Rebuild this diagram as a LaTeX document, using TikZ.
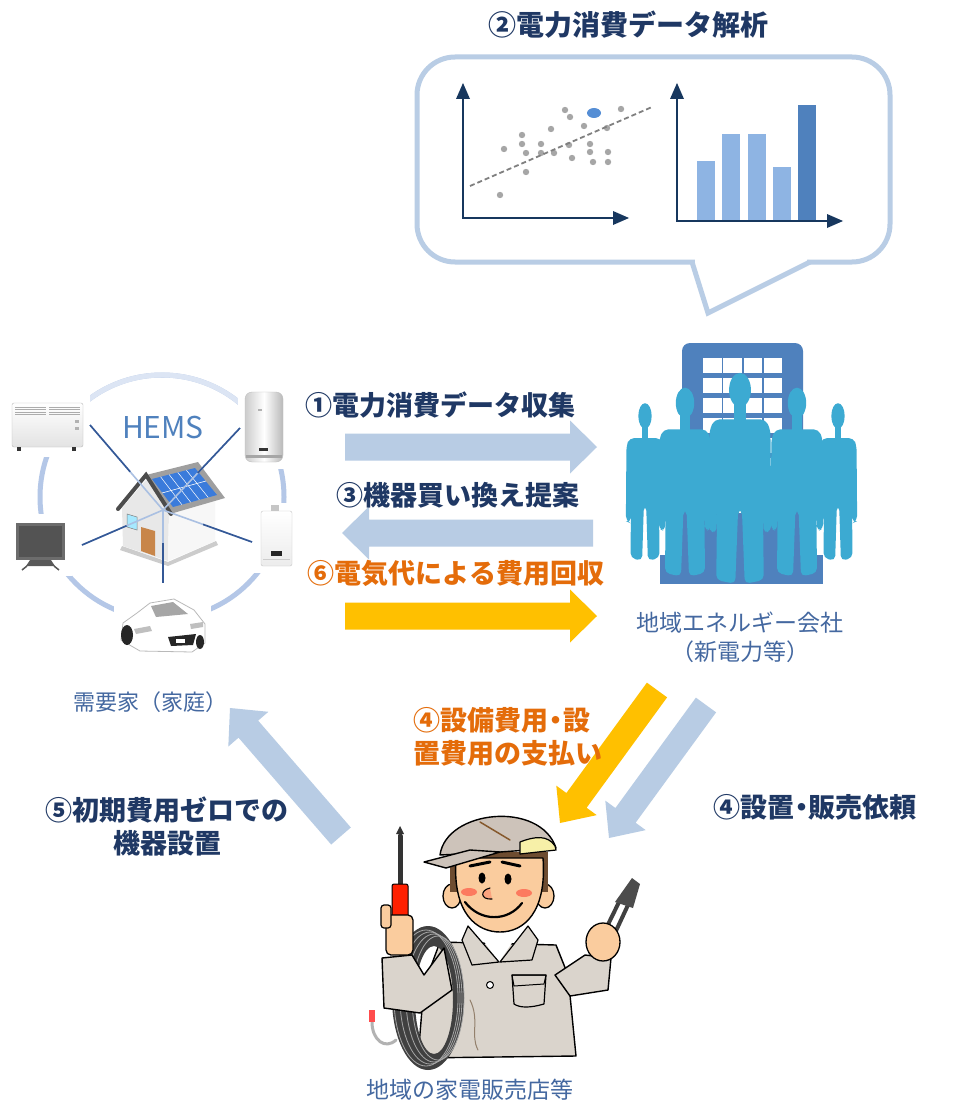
\documentclass[tikz,border=0pt]{standalone}
\usepackage{fontspec}
\setmainfont{Noto Sans CJK JP}
\usetikzlibrary{calc,shapes.geometric}

\definecolor{navy}{RGB}{31,56,100}
\definecolor{orangetxt}{RGB}{228,108,10}
\definecolor{paleblue}{RGB}{184,204,228}
\definecolor{gold}{RGB}{255,192,0}
\definecolor{bubble}{RGB}{185,205,229}
\definecolor{axisnavy}{RGB}{23,55,94}
\definecolor{barlight}{RGB}{142,180,227}
\definecolor{bardark}{RGB}{79,129,189}
\definecolor{dotgrey}{RGB}{166,166,166}
\definecolor{dothi}{RGB}{85,142,213}
\definecolor{labelblue}{RGB}{68,104,160}
\definecolor{ring}{RGB}{180,199,231}
\definecolor{ringlight}{RGB}{220,229,244}
\definecolor{linkdark}{RGB}{52,88,150}
\definecolor{linklight}{RGB}{170,192,226}
\definecolor{tower}{RGB}{79,129,189}
\definecolor{crowd}{RGB}{60,170,210}
\definecolor{skin}{RGB}{250,204,158}
\definecolor{uniform}{RGB}{218,212,204}
\definecolor{capgrey}{RGB}{205,195,186}
\definecolor{capyellow}{RGB}{247,240,168}
\definecolor{hair}{RGB}{110,76,48}
\definecolor{solar}{RGB}{58,123,219}
\definecolor{door}{RGB}{200,134,74}

% block arrow: colour, from, to, shaft width, head width, head length
\newcommand\blockarrow[6]{%
  \path let \p1=($(#3)-(#2)$) in \pgfextra{%
    \pgfmathsetmacro\baang{atan2(\y1,\x1)}\xdef\baang{\baang}%
    \pgfmathsetmacro\balen{veclen(\x1,\y1)}\xdef\balen{\balen}};
  \fill[#1, shift={(#2)}, rotate=\baang]
    (0,-#4/2) -- (\balen-#6,-#4/2) -- (\balen-#6,-#5/2) -- (\balen,0)
    -- (\balen-#6,#5/2) -- (\balen-#6,#4/2) -- (0,#4/2) -- cycle;
}
% narrow middle dot
\newcommand\ndot{\makebox[0.55em]{・}}

\tikzset{
  stepnavy/.style={font=\bfseries\fontsize{27}{33}\selectfont, text=navy, inner sep=0pt},
  steporange/.style={font=\bfseries\fontsize{27}{33}\selectfont, text=orangetxt, inner sep=0pt},
  placelabel/.style={font=\fontsize{22}{29}\selectfont, text=labelblue, inner sep=0pt},
  axisline/.style={axisnavy, line width=2pt},
  link/.style={line width=1.6pt},
  person/.pic={
    \fill[crowd] (0,0) ellipse (11.5 and 18);
    \fill[crowd] (-6,10) rectangle (6,34);
    \fill[crowd, rounded corners=5] (-27,31) -- (27,31) -- (32,42) -- (33,148)
      -- (25,151) -- (24,112) -- (25,200) -- (5,204) -- (2,126) -- (-2,126)
      -- (-5,204) -- (-25,200) -- (-24,112) -- (-25,151) -- (-33,148)
      -- (-32,42) -- cycle;
  },
}

\begin{document}
\begin{tikzpicture}[x=1pt,y=-1pt]
\fill[white] (0,0) rectangle (954,1105);
\useasboundingbox (0,0) rectangle (954,1105);

% ---------- analysis bubble ----------
\node[stepnavy, font=\bfseries\fontsize{28}{30}\selectfont] (t2) at (628,25) {②電力消費データ解析};
\draw[bubble, line width=5pt, rounded corners=38] (417,57) rectangle (890,262);
\fill[white] (695,257) rectangle (807,267);
\draw[bubble, line width=5pt, line join=miter] (692,262) -- (708,313) -- (810,262);

% scatter chart
\draw[axisline] (463,218) -- (463,96);
\fill[axisnavy] (463,83) -- (456,99) -- (470,99) -- cycle;
\draw[axisline] (462,218) -- (614,218);
\fill[axisnavy] (629,218) -- (613,211) -- (613,225) -- cycle;
\foreach \px/\py in {565/110,570/117,621/109,522/135,551/129,584/126,607/128,
  504/149,522/144,541/144,569/145,590/144,526/153,541/153,554/153,590/152,
  608/152,572/158,593/162,608/162,526/172,500/195}
  \fill[dotgrey] (\px,\py) circle (3.2);
\fill[dothi] (594,113) ellipse (7 and 5);
\draw[gray, line width=1.8pt, dash pattern=on 5pt off 3pt] (470,186) -- (652,107);

% bar chart
\fill[barlight] (697,222) rectangle (715,161);
\fill[barlight] (722,222) rectangle (740,134);
\fill[barlight] (748,222) rectangle (766,134);
\fill[barlight] (773,222) rectangle (791,167);
\fill[bardark]  (798,222) rectangle (816,105);
\draw[axisline] (677,220) -- (677,96);
\fill[axisnavy] (677,83) -- (670,99) -- (684,99) -- cycle;
\draw[axisline] (676,221) -- (828,221);
\fill[axisnavy] (843,221) -- (827,214) -- (827,228) -- cycle;

% ---------- home circle ----------
\draw[ring, line width=5pt] (162,497) circle (122);
\draw[ringlight, line width=5pt] (162,497) ++(200:122) arc (200:340:122);
% white backdrops of the appliance pictures
\fill[white] (4,394) rectangle (90,457);
\fill[white] (238,384) rectangle (291,469);
\fill[white] (8,514) rectangle (72,576);
\fill[white] (252,503) rectangle (299,573);
\fill[white] (114,590) rectangle (211,659);

% house
\fill[gray!40] (122,546) -- (168,562) -- (216,541) -- (218,545) -- (168,566) -- (120,550) -- cycle;
\fill[gray!18] (122,508) -- (146,480) -- (169,511) -- (168,561) -- (123,546) -- cycle;
\fill[gray!6] (169,511) -- (215,498) -- (215,541) -- (168,561) -- cycle;
\fill[gray!75] (146,475) -- (198,462) -- (225,498) -- (170,514) -- cycle;
\fill[solar] (152,479) -- (195,468) -- (217,495) -- (173,507) -- cycle;
\draw[white, line width=0.6pt] (162,493) -- (206,481);
\foreach \t in {0.2,0.4,0.6,0.8}
  \draw[white, line width=0.5pt] ($(152,479)!\t!(195,468)$) -- ($(173,507)!\t!(217,495)$);
\draw[gray!60!black, line width=4pt, line cap=round] (118,509) -- (146,475) -- (171,514);
\fill[door] (141,527) -- (155,531) -- (155,556) -- (141,551) -- cycle;
\fill[blue!25!cyan!35] (127,514) -- (137,517) -- (137,530) -- (127,527) -- cycle;
\draw[gray, line width=0.5pt] (127,514) -- (137,517) -- (137,530) -- (127,527) -- cycle;

% HEMS links from the roof hub
\coordinate (hub) at (163,510);
\coordinate (eHeater) at (90,425);
\coordinate (eBoiler) at (240,428);
\coordinate (eTV) at (82,545);
\coordinate (eGas) at (252,542);
\coordinate (eCar) at (163,583);
\foreach \e in {eHeater,eBoiler,eTV,eGas,eCar}{
  \draw[link, linklight] (hub) -- (\e);
  \draw[link, linkdark] ($(hub)!0.45!(\e)$) -- (\e);
}

% panel heater
\draw[gray!55, top color=white, bottom color=gray!22, rounded corners=2] (12,403) rectangle (83,447);
\foreach \yy in {407,409.5,412,414.5}{
  \draw[gray!65, line width=0.7pt] (15,\yy) -- (46,\yy);
  \draw[gray!65, line width=0.7pt] (49,\yy) -- (80,\yy);
}
\fill[gray!60] (75,420) rectangle (79,423);
\fill[gray!60] (75,427) rectangle (79,430);
\fill[black!80] (17,447) rectangle (21,451);
\fill[black!80] (72,447) rectangle (76,451);

% electric water heater
\draw[gray!50, left color=gray!40, right color=gray!55, middle color=white, rounded corners=7] (245,392) rectangle (283,462);
\fill[gray!70] (246,455) rectangle (282,458);
\fill[black!80] (259,448) rectangle (268,451);
\fill[gray!60] (258,409) rectangle (262,411);

% television
\fill[gray!85!black] (16,523) rectangle (65,560);
\fill[gray!65!black] (19,526) rectangle (62,557);
\fill[gray!70!black] (30,560) -- (51,560) -- (55,566) -- (26,566) -- cycle;
\draw[gray!70!black, line width=1.5pt] (27,566) -- (22,570) (54,566) -- (59,570);

% gas water heater
\fill[gray!45] (271,505) rectangle (279,511);
\draw[gray!45, top color=white, bottom color=gray!15, rounded corners=2] (261,511) rectangle (292,566);
\fill[black!85] (271,551) rectangle (282,556);
\draw[gray!40, line width=0.6pt] (263,559) -- (290,559);

% car
\draw[gray!55, fill=white, line width=0.8pt] (121,640) -- (123,623) -- (137,613) -- (150,603)
  -- (174,599) -- (194,610) -- (205,624) -- (205,643) -- (192,652) -- (140,651) -- cycle;
\fill[gray!70] (151,606) -- (173,602) -- (188,614) -- (156,617) -- cycle;
\fill[black!85] (168,637) -- (196,634) -- (193,645) -- (171,646) -- cycle;
\fill[white] (176,639) rectangle (185,643);
\fill[black!85] (127,635) ellipse (6 and 10);
\fill[black!85] (200,642) ellipse (4 and 7);
\fill[gray!50] (134,629) -- (150,626) -- (152,631) -- (136,634) -- cycle;
\fill[gray!50] (190,624) -- (203,622) -- (203,627) -- (191,629) -- cycle;

\node[font=\fontsize{30}{32}\selectfont, text=bardark, inner sep=0pt] (hems) at (163,428) {HEMS};
\node[placelabel] (lhome) at (150,702) {需要家（家庭）};

% ---------- energy company ----------
\fill[tower, rounded corners=8] (682,343) rectangle (803,572);
\fill[tower] (660,555) rectangle (823,584);
\foreach \c in {0,1,2,3}
  \foreach \r in {0,...,7}
    \fill[white] (703+\c*20.3,358+\r*20) rectangle ++(18.5,15);
\pic[xscale=0.58, yscale=0.71] at (645,416) {person};
\pic[xscale=0.58, yscale=0.71] at (838,416) {person};
\pic[xscale=0.8, yscale=0.85] at (685,403) {person};
\pic[xscale=0.8, yscale=0.85] at (797,403) {person};
\pic[xscale=0.95, yscale=0.95] at (740,390) {person};
\node[placelabel, font=\fontsize{23}{29}\selectfont, align=center] (lco) at (740,637) {地域エネルギー会社\\（新電力等）};

% ---------- flows ----------
\coordinate (f1s) at (345,447);  \coordinate (f1e) at (597,447);
\coordinate (f3s) at (593,533);  \coordinate (f3e) at (342,533);
\coordinate (f6s) at (345,616);  \coordinate (f6e) at (597,616);
\coordinate (f4ys) at (657,690); \coordinate (f4ye) at (560,823);
\coordinate (f4bs) at (706,705); \coordinate (f4be) at (609,838);
\coordinate (f5s) at (341,836);  \coordinate (f5e) at (230,708);
\blockarrow{paleblue}{f1s}{f1e}{27}{53}{27}
\blockarrow{paleblue}{f3s}{f3e}{27}{53}{27}
\blockarrow{gold}{f6s}{f6e}{27}{53}{27}
\blockarrow{gold}{f4ys}{f4ye}{25}{50}{28}
\blockarrow{paleblue}{f4bs}{f4be}{25}{50}{28}
\blockarrow{paleblue}{f5s}{f5e}{26}{53}{28}

\node[stepnavy] (t1) at (440,405) {①電力消費データ収集};
\node[stepnavy] (t3) at (458,495) {③機器買い換え提案};
\node[steporange] (t6) at (456,573) {⑥電気代による費用回収};
\node[steporange, align=left, anchor=west] (t4a) at (413,737) {④設備費用\ndot 設\\置費用の支払い};
\node[stepnavy] (t4b) at (815,807) {④設置\ndot 販売依頼};
\node[stepnavy, align=center] (t5) at (167,826) {⑤初期費用ゼロでの\\機器設置};

% ---------- electrician ----------
\begin{scope}[line join=round, line cap=round]
% torso
\draw[fill=uniform, line width=1.4pt] (440,942) -- (556,945) -- (568,975) -- (576,1056)
  -- (418,1058) -- (424,985) -- cycle;
\draw[gray!70!brown, line width=1pt] (470,1000) .. controls (480,1020) and (470,1035) .. (478,1050);
% collar and shirt
\fill[white] (474,928) -- (522,928) -- (499,962) -- cycle;
\draw[fill=uniform, line width=1.2pt] (468,926) -- (499,962) -- (472,965) -- (462,940) -- cycle;
\draw[fill=uniform, line width=1.2pt] (528,926) -- (500,962) -- (532,960) -- (538,940) -- cycle;
\draw[fill=white, line width=1pt] (490,985) circle (3.5);
\draw[line width=1.2pt] (512,975) -- (546,975) -- (544,1004) .. controls (530,1008) and (520,1008) .. (514,1004) -- cycle;
\draw[line width=1pt] (512,975) -- (546,975) -- (544,984) -- (514,986) -- cycle;
% cable coil
\fill[black!75, even odd rule] (428,998) ellipse (36 and 72) (434,1000) ellipse (19 and 54);
\foreach \dx in {0,4,8,12}
  \draw[gray!70, line width=0.8pt] (426+\dx,998) ellipse (32-\dx/2 and 68-\dx/2);
\draw[gray!60, line width=3pt] (396,1040) .. controls (385,1050) and (372,1040) .. (372,1022);
\fill[red!60!pink] (369,1010) rectangle (375,1022);
% left arm with screwdriver
\draw[fill=uniform, line width=1.4pt] (382,958) -- (412,955) -- (424,975) -- (444,948)
  -- (452,990) -- (420,1013) -- (384,1008) -- cycle;
\draw[line width=5pt, gray!40!black] (400,836) -- (400,890);
\fill[black!80] (396,834) -- (400,826) -- (404,834) -- cycle;
\draw[fill=red!75!orange, line width=1pt, rounded corners=2] (392,884) rectangle (408,922);
\draw[fill=skin, line width=1.3pt, rounded corners=5] (386,915) rectangle (413,955);
\draw[fill=skin, line width=1.2pt, rounded corners=3] (381,905) rectangle (391,928);
% right arm with pliers
\draw[fill=uniform, line width=1.4pt] (585,955) -- (611,958) -- (608,990) -- (570,996) -- (555,975) -- cycle;
\draw[gray!50!black, line width=4pt] (598,945) -- (620,900);
\draw[gray!50!black, line width=4pt] (608,948) -- (628,905);
\fill[gray!60!black] (615,902) -- (632,878) -- (640,884) -- (633,908) -- cycle;
\draw[fill=skin, line width=1.3pt] (603,942) ellipse (17 and 19);
% head
\draw[fill=skin, line width=1.3pt] (452,896) ellipse (9 and 12);
\draw[fill=skin, line width=1.3pt] (545,896) ellipse (9 and 12);
\fill[hair] (450,852) rectangle (548,892);
\draw[fill=skin, line width=1.4pt] (456,858) .. controls (452,915) and (478,932) .. (500,932)
  .. controls (524,932) and (547,912) .. (543,858) -- cycle;
\draw[fill=capgrey, line width=1.4pt] (440,855) .. controls (446,810) and (540,800) .. (556,848)
  -- (500,852) -- cycle;
\draw[fill=capyellow, line width=1.2pt] (520,842) .. controls (535,836) and (548,835) .. (555,846)
  -- (556,850) -- (520,854) -- cycle;
\draw[fill=capgrey, line width=1.4pt] (424,862) -- (470,850) -- (500,852) -- (446,868) -- cycle;
\draw[brown!70!black, line width=1.5pt] (480,822) -- (510,840);
\draw[line width=3pt] (470,866) -- (490,862);
\draw[line width=3pt] (502,862) -- (520,866);
\fill[black] (482,878) ellipse (3.5 and 5.5);
\fill[black] (508,879) ellipse (3.5 and 5.5);
\fill[red!40!skin] (469,892) ellipse (8 and 4);
\fill[red!40!skin] (524,893) ellipse (8 and 4);
\draw[fill=skin!80!red, line width=1.1pt] (490,888) .. controls (480,890) and (480,900) .. (492,899);
\draw[line width=2.2pt] (465,902) .. controls (480,922) and (508,922) .. (522,903);
\end{scope}
\node[placelabel, font=\fontsize{23}{29}\selectfont] (lshop) at (470,1090) {地域の家電販売店等};
\end{tikzpicture}
\end{document}
